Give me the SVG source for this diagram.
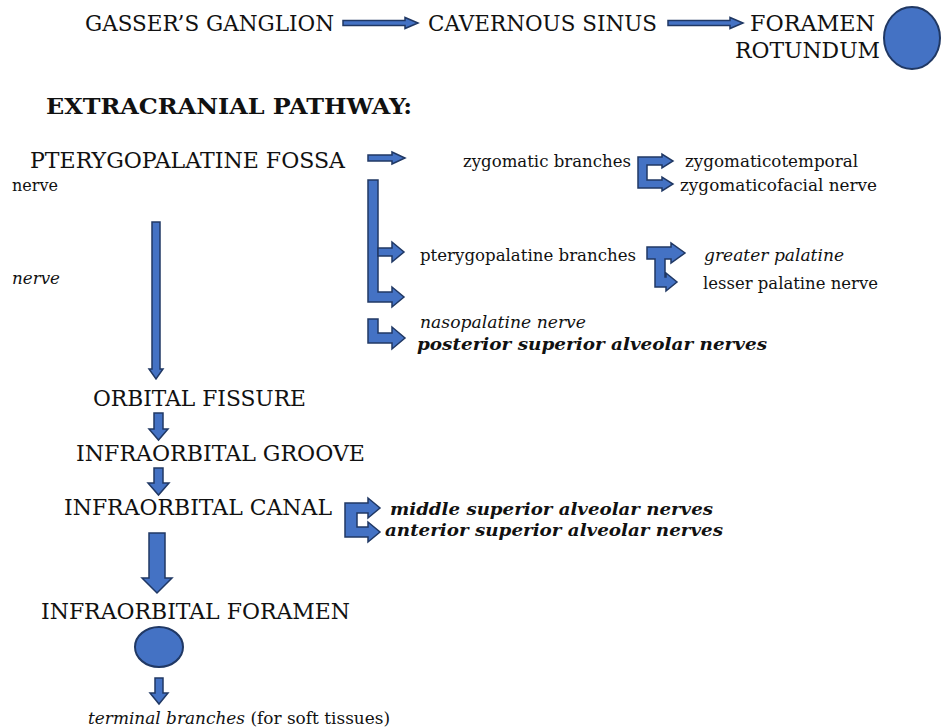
<svg xmlns="http://www.w3.org/2000/svg" width="943" height="728" viewBox="0 0 943 728">
<style>
text{font-family:"DejaVu Serif","Liberation Serif",serif;fill:#111}
.cap{font-size:22px}
.big{font-size:23px}
.sm{font-size:17px}
.it{font-style:italic}
.bi{font-style:italic;font-weight:bold}
.arr{fill:#4472C4;stroke:#203864;stroke-width:1.5;stroke-linejoin:miter}
.dot{fill:#4472C4;stroke:#203864;stroke-width:2}
</style>
<rect width="943" height="728" fill="#fff"/>
<g id="gasser"><text class="cap" x="85" y="31" textLength="249" lengthAdjust="spacingAndGlyphs">GASSER’S GANGLION</text></g>
<g id="cavernous"><text class="cap" x="428" y="31" textLength="229" lengthAdjust="spacingAndGlyphs">CAVERNOUS SINUS</text></g>
<g id="rotundum">
<text class="cap" x="750" y="31" textLength="125" lengthAdjust="spacingAndGlyphs">FORAMEN</text>
<text class="cap" x="735" y="58" textLength="145" lengthAdjust="spacingAndGlyphs">ROTUNDUM</text>
<ellipse class="dot" cx="912" cy="38" rx="28" ry="31"/>
</g>
<g id="title"><text x="46" y="114" style="font-size:23px;font-weight:bold" textLength="366" lengthAdjust="spacingAndGlyphs">EXTRACRANIAL PATHWAY:</text></g>
<g id="fossa">
<text class="big" x="30" y="168" textLength="315" lengthAdjust="spacingAndGlyphs">PTERYGOPALATINE FOSSA</text>
<text class="sm" x="12" y="191" textLength="46" lengthAdjust="spacingAndGlyphs">nerve</text>
<text class="sm it" x="12" y="284" textLength="48" lengthAdjust="spacingAndGlyphs">nerve</text>
</g>
<g id="zygomatic">
<text class="sm" x="463" y="167" textLength="168" lengthAdjust="spacingAndGlyphs">zygomatic branches</text>
<text class="sm" x="685" y="167" textLength="173" lengthAdjust="spacingAndGlyphs">zygomaticotemporal</text>
<text class="sm" x="680" y="191" textLength="197" lengthAdjust="spacingAndGlyphs">zygomaticofacial nerve</text>
</g>
<g id="pterygopalatine">
<text class="sm" x="420" y="261" textLength="216" lengthAdjust="spacingAndGlyphs">pterygopalatine branches</text>
<text class="sm it" x="704" y="261" textLength="140" lengthAdjust="spacingAndGlyphs">greater palatine</text>
<text class="sm" x="703" y="289" textLength="175" lengthAdjust="spacingAndGlyphs">lesser palatine nerve</text>
</g>
<g id="nasopalatine">
<text class="sm it" x="420" y="328" textLength="166" lengthAdjust="spacingAndGlyphs">nasopalatine nerve</text>
<text class="sm bi" x="417" y="350" textLength="350" lengthAdjust="spacingAndGlyphs">posterior superior alveolar nerves</text>
</g>
<g id="orbital"><text class="big" x="93" y="406" textLength="213" lengthAdjust="spacingAndGlyphs">ORBITAL FISSURE</text></g>
<g id="groove"><text class="big" x="76" y="461" textLength="289" lengthAdjust="spacingAndGlyphs">INFRAORBITAL GROOVE</text></g>
<g id="canal">
<text class="big" x="64" y="515" textLength="268" lengthAdjust="spacingAndGlyphs">INFRAORBITAL CANAL</text>
<text class="sm bi" x="390" y="515" textLength="323" lengthAdjust="spacingAndGlyphs">middle superior alveolar nerves</text>
<text class="sm bi" x="385" y="536" textLength="338" lengthAdjust="spacingAndGlyphs">anterior superior alveolar nerves</text>
</g>
<g id="foramen">
<text class="big" x="41" y="619" textLength="309" lengthAdjust="spacingAndGlyphs">INFRAORBITAL FORAMEN</text>
<ellipse class="dot" cx="159" cy="647" rx="24" ry="20"/>
</g>
<g id="terminal"><text class="sm" x="88" y="724" textLength="302" lengthAdjust="spacingAndGlyphs"><tspan class="it">terminal branches</tspan> (for soft tissues)</text></g>
<g id="connectors">
<path class="arr" d="M343,20.5 H405 V17.5 L418,23 L405,28.5 V25.5 H343 Z"/>
<path class="arr" d="M668,20.5 H730 V17.5 L743,23 L730,28.5 V25.5 H668 Z"/>
<path class="arr" d="M368,155 H392 V152 L405,158 L392,164 V161 H368 Z"/>
<path class="arr" d="M368,180 H378 V292 H392 V287 L404,297 L392,307 V302 H368 Z"/>
<path class="arr" d="M378,248 H392 V242 L404,252 L392,262 V256 H378 Z"/>
<path class="arr" d="M368,319 H378 V333 H392 V327 L405,338 L392,349 V343 H368 Z"/>
<path class="arr" d="M638,157 H662 V154 L673,161 L662,168 V165 H647 V180 H662 V177 L673,184 L662,191 V188 H638 Z"/>
<path class="arr" d="M647,247 H671 V243 L685,253 L671,263 V259 H665 V277 H666 V273 L677,282 L666,291 V287 H655 V259 H647 Z"/>
<path class="arr" d="M152,222 H160 V369 H163 L156,379 L149,369 H152 Z"/>
<path class="arr" d="M154,413 H163 V429 H168 L158.5,440 L149,429 H154 Z"/>
<path class="arr" d="M154,468 H163 V483 H169 L158.5,495 L148,483 H154 Z"/>
<path class="arr" d="M345,503 H368 V498 L380,508 L368,518 V513 H357 V527 H368 V522 L380,532 L368,542 V537 H345 Z"/>
<path class="arr" d="M149,533 H165 V578 H172 L157,593 L142,578 H149 Z"/>
<path class="arr" d="M155,678 H163 V693 H168 L159,704 L150,693 H155 Z"/>
</g>
</svg>
